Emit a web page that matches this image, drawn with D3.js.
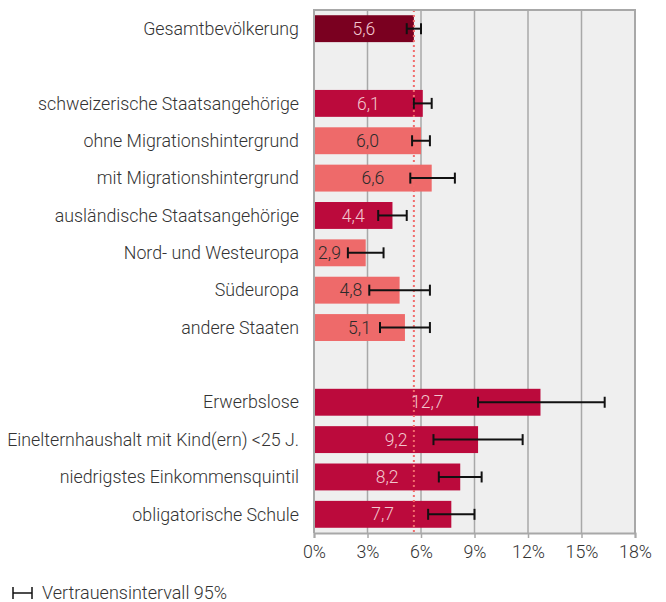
<!DOCTYPE html>
<html>
<head>
<meta charset="utf-8">
<script src="https://cdn.jsdelivr.net/npm/d3@7"></script>
<style>
	body { margin: 0; background: #fff; }
	text { font-family: Roboto, "Noto Sans", sans-serif; font-weight: 300; }
</style>
</head>
<body>
<div id="svg-div"></div>
<script>
// categories ("" = empty slot between groups)
var categories = ["Gesamtbevölkerung", "",
	"schweizerische Staatsangehörige", "ohne Migrationshintergrund", "mit Migrationshintergrund",
	"ausländische Staatsangehörige", "Nord- und Westeuropa", "Südeuropa", "andere Staaten", " ",
	"Erwerbslose", "Einelternhaushalt mit Kind(ern) <25 J.", "niedrigstes Einkommensquintil", "obligatorische Schule"];
var values = [5.6, null, 6.1, 6.0, 6.6, 4.4, 2.9, 4.8, 5.1, null, 12.7, 9.2, 8.2, 7.7];
var ciLow = [5.2, null, 5.6, 5.5, 5.4, 3.6, 1.9, 3.1, 3.7, null, 9.2, 6.7, 7.0, 6.4];
var ciHigh = [6.0, null, 6.6, 6.5, 7.9, 5.2, 3.9, 6.5, 6.5, null, 16.3, 11.7, 9.4, 9.0];
var kinds = ["total", null, "main", "sub", "sub", "main", "sub", "sub", "sub", null, "main", "main", "main", "main"];
var xTicks = [0, 3, 6, 9, 12, 15, 18];
var referenceValue = 5.6;
var legendLabel = "Vertrauensintervall 95%";

var colors = { total: "#7a0020", main: "#bb0a3c", sub: "#ee6a6a" };
var labelColors = { total: "#f2c6cf", main: "#f2c6cf", sub: "#2b2b2b" };

var chartProperties = {
	outerWidth: 666,
	outerheight: 602,
	margin: { top: 10, right: 31, bottom: 69, left: 314 }
};
chartProperties.width = chartProperties.outerWidth - chartProperties.margin.left - chartProperties.margin.right;
chartProperties.height = chartProperties.outerheight - chartProperties.margin.top - chartProperties.margin.bottom;

var root = d3.select("#svg-div")
	.append("svg")
	.attr("width", chartProperties.outerWidth)
	.attr("height", chartProperties.outerheight);

var svg = root.append("g")
	.attr("transform", "translate(" + chartProperties.margin.left + "," + chartProperties.margin.top + ")");

// Scales
var xScale = d3.scaleLinear()
	.domain([0, 18])
	.range([0, chartProperties.width]);

var yScale = d3.scaleBand()
	.domain(d3.range(categories.length))
	.range([0, chartProperties.height])
	.paddingInner(0.28)
	.paddingOuter(0.14);

var data = categories.map(function(c, i) {
	return { name: c, value: values[i], lo: ciLow[i], hi: ciHigh[i], kind: kinds[i], i: i };
});
var bars = data.filter(function(d) { return d.value !== null; });

// background
svg.append("rect")
	.attr("width", chartProperties.width)
	.attr("height", chartProperties.height)
	.attr("fill", "#efefef");

// gridlines
svg.append("g")
	.selectAll("line")
	.data(xTicks.slice(1, -1))
	.enter()
	.append("line")
	.attr("x1", function(d) { return xScale(d); })
	.attr("x2", function(d) { return xScale(d); })
	.attr("y1", 0)
	.attr("y2", chartProperties.height)
	.attr("stroke", "#a8a8a8")
	.attr("stroke-width", 1.5);

// bars
svg.append("g")
	.selectAll("rect")
	.data(bars)
	.enter()
	.append("rect")
	.attr("x", xScale(0))
	.attr("y", function(d) { return yScale(d.i); })
	.attr("width", function(d) { return xScale(d.value) - xScale(0); })
	.attr("height", yScale.bandwidth())
	.attr("fill", function(d) { return colors[d.kind]; });

// reference line
svg.append("line")
	.attr("x1", xScale(referenceValue))
	.attr("x2", xScale(referenceValue))
	.attr("y1", 0)
	.attr("y2", chartProperties.height)
	.attr("stroke", "#f26c6c")
	.attr("stroke-width", 2)
	.attr("stroke-dasharray", "2,3");

// frame
svg.append("path")
	.attr("d", "M0," + chartProperties.height + "V0H" + chartProperties.width + "V" + chartProperties.height)
	.attr("fill", "none")
	.attr("stroke", "#a8a8a8")
	.attr("stroke-width", 2);

// value labels
svg.append("g")
	.selectAll("text")
	.data(bars)
	.enter()
	.append("text")
	.attr("y", function(d) { return yScale(d.i) + yScale.bandwidth() / 2; })
	.attr("dy", "0.35em")
	.attr("text-anchor", "middle")
	.attr("font-size", 17.5)
	.attr("fill", function(d) { return labelColors[d.kind]; })
	.text(function(d) { return d3.format(".1f")(d.value).replace(".", ","); })
	.attr("x", function(d) {
		var center = (xScale(0) + xScale(d.value)) / 2;
		var half = this.getComputedTextLength() / 2;
		return Math.min(center, xScale(d.lo) - 7 - half);
	});

// error bars
var ci = svg.append("g")
	.attr("stroke", "#111")
	.attr("stroke-width", 2);
bars.forEach(function(d) {
	var cy = yScale(d.i) + yScale.bandwidth() / 2;
	ci.append("line").attr("x1", xScale(d.lo)).attr("x2", xScale(d.hi)).attr("y1", cy).attr("y2", cy);
	ci.append("line").attr("x1", xScale(d.lo)).attr("x2", xScale(d.lo)).attr("y1", cy - 5.5).attr("y2", cy + 5.5);
	ci.append("line").attr("x1", xScale(d.hi)).attr("x2", xScale(d.hi)).attr("y1", cy - 5.5).attr("y2", cy + 5.5);
});

// category labels
svg.append("g")
	.selectAll("text")
	.data(bars)
	.enter()
	.append("text")
	.attr("x", -15)
	.attr("y", function(d) { return yScale(d.i) + yScale.bandwidth() / 2; })
	.attr("dy", "0.35em")
	.attr("text-anchor", "end")
	.attr("font-size", 17.8)
	.attr("fill", "#333")
	.text(function(d) { return d.name; });

// x axis
var xAxis = d3.axisBottom()
	.scale(xScale)
	.tickValues(xTicks)
	.tickSize(5)
	.tickPadding(7)
	.tickFormat(function(d) { return d + "%"; });

var ax = svg.append("g")
	.attr("transform", "translate(0," + chartProperties.height + ")")
	.call(xAxis);
ax.select(".domain").attr("stroke", "#a8a8a8").attr("stroke-width", 2);
ax.selectAll(".tick line").attr("stroke", "#a8a8a8").attr("stroke-width", 1.5);
ax.selectAll(".tick text")
	.attr("font-size", 17.8)
	.attr("font-family", "Roboto, sans-serif")
	.attr("fill", "#333");

// legend
var legend = root.append("g")
	.attr("transform", "translate(13,593)")
	.attr("stroke", "#111")
	.attr("stroke-width", 1.5);
legend.append("line").attr("x1", 0).attr("x2", 19).attr("y1", 0).attr("y2", 0);
legend.append("line").attr("x1", 0).attr("x2", 0).attr("y1", -6).attr("y2", 6);
legend.append("line").attr("x1", 19).attr("x2", 19).attr("y1", -6).attr("y2", 6);
root.append("text")
	.attr("x", 42)
	.attr("y", 593)
	.attr("dy", "0.35em")
	.attr("font-size", 18)
	.attr("fill", "#333")
	.text(legendLabel);
</script>
</body>
</html>
